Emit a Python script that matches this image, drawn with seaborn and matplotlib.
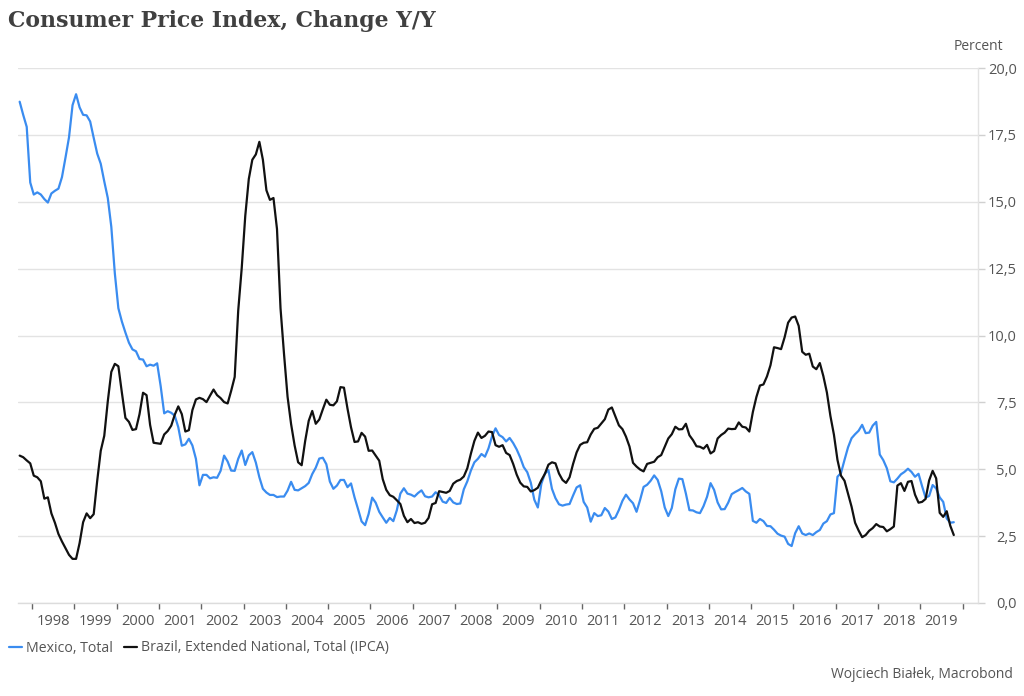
import matplotlib
matplotlib.use("Agg")
import matplotlib.pyplot as plt
import seaborn as sns
import pandas as pd
import numpy as np
from matplotlib.ticker import FixedLocator, FuncFormatter

# ---------------- data (monthly, Sep 1997 - Oct 2019) ----------------
start_month = "1997-09-01"

mexico = [
    18.74, 18.25, 17.80, 15.72,
    15.27, 15.35, 15.27, 15.10, 14.97, 15.31, 15.41, 15.49, 15.92, 16.65, 17.41, 18.61,
    19.02, 18.53, 18.25, 18.23, 18.00, 17.39, 16.80, 16.42, 15.76, 15.14, 14.06, 12.32,
    11.02, 10.52, 10.11, 9.73, 9.48, 9.41, 9.12, 9.10, 8.85, 8.91, 8.87, 8.96,
    8.11, 7.09, 7.17, 7.11, 7.00, 6.57, 5.88, 5.93, 6.14, 5.89, 5.39, 4.40,
    4.79, 4.79, 4.66, 4.70, 4.68, 4.94, 5.51, 5.29, 4.95, 4.94, 5.39, 5.70,
    5.16, 5.52, 5.64, 5.25, 4.70, 4.27, 4.13, 4.04, 4.04, 3.96, 3.98, 3.98,
    4.20, 4.53, 4.23, 4.21, 4.29, 4.37, 4.49, 4.82, 5.06, 5.40, 5.43, 5.19,
    4.54, 4.27, 4.39, 4.60, 4.60, 4.33, 4.47, 3.95, 3.51, 3.05, 2.91, 3.33,
    3.94, 3.75, 3.41, 3.20, 3.00, 3.18, 3.06, 3.47, 4.09, 4.29, 4.09, 4.05,
    3.98, 4.11, 4.21, 3.99, 3.95, 3.98, 4.14, 4.03, 3.79, 3.74, 3.93, 3.76,
    3.70, 3.72, 4.25, 4.55, 4.95, 5.26, 5.39, 5.57, 5.47, 5.78, 6.23, 6.53,
    6.28, 6.20, 6.04, 6.17, 5.98, 5.74, 5.44, 5.08, 4.89, 4.50, 3.86, 3.57,
    4.46, 4.83, 4.97, 4.27, 3.92, 3.69, 3.64, 3.68, 3.70, 4.02, 4.32, 4.40,
    3.78, 3.57, 3.04, 3.36, 3.25, 3.28, 3.55, 3.42, 3.14, 3.20, 3.48, 3.82,
    4.05, 3.87, 3.73, 3.41, 3.85, 4.34, 4.42, 4.57, 4.77, 4.60, 4.18, 3.57,
    3.25, 3.55, 4.25, 4.65, 4.63, 4.09, 3.47, 3.46, 3.39, 3.36, 3.62, 3.97,
    4.48, 4.23, 3.76, 3.50, 3.51, 3.75, 4.07, 4.15, 4.22, 4.30, 4.17, 4.08,
    3.07, 3.00, 3.14, 3.06, 2.88, 2.87, 2.74, 2.59, 2.52, 2.48, 2.21, 2.13,
    2.61, 2.87, 2.60, 2.54, 2.60, 2.54, 2.65, 2.73, 2.97, 3.06, 3.31, 3.36,
    4.72, 4.86, 5.35, 5.82, 6.16, 6.31, 6.44, 6.66, 6.35, 6.37, 6.63, 6.77,
    5.55, 5.34, 5.04, 4.55, 4.51, 4.65, 4.81, 4.90, 5.02, 4.90, 4.72, 4.83,
    4.37, 3.94, 4.00, 4.41, 4.28, 3.95, 3.78, 3.16, 3.00, 3.02,
]

brazil = [
    5.51, 5.45, 5.33, 5.22,
    4.76, 4.70, 4.55, 3.90, 3.95, 3.35, 3.00, 2.58, 2.30, 2.05, 1.80, 1.65,
    1.65, 2.24, 3.02, 3.35, 3.17, 3.32, 4.57, 5.69, 6.25, 7.54, 8.64, 8.94,
    8.85, 7.86, 6.92, 6.77, 6.47, 6.50, 7.06, 7.86, 7.77, 6.66, 5.99, 5.97,
    5.95, 6.30, 6.43, 6.63, 7.04, 7.35, 7.06, 6.41, 6.46, 7.21, 7.61, 7.67,
    7.62, 7.51, 7.75, 7.98, 7.77, 7.66, 7.51, 7.46, 7.93, 8.45, 10.93, 12.53,
    14.47, 15.85, 16.57, 16.77, 17.24, 16.57, 15.43, 15.07, 15.14, 13.98, 11.02, 9.30,
    7.71, 6.69, 5.89, 5.26, 5.15, 6.06, 6.81, 7.18, 6.70, 6.86, 7.24, 7.60,
    7.41, 7.39, 7.54, 8.07, 8.05, 7.27, 6.57, 6.02, 6.04, 6.36, 6.22, 5.69,
    5.70, 5.51, 5.32, 4.63, 4.23, 4.03, 3.97, 3.84, 3.70, 3.26, 3.02, 3.14,
    2.99, 3.02, 2.96, 3.00, 3.18, 3.69, 3.74, 4.18, 4.15, 4.12, 4.19, 4.46,
    4.56, 4.61, 4.73, 5.04, 5.58, 6.06, 6.37, 6.17, 6.25, 6.41, 6.39, 5.90,
    5.84, 5.90, 5.61, 5.53, 5.20, 4.80, 4.50, 4.36, 4.34, 4.17, 4.22, 4.31,
    4.59, 4.83, 5.17, 5.26, 5.22, 4.84, 4.60, 4.49, 4.70, 5.20, 5.63, 5.91,
    5.99, 6.01, 6.30, 6.51, 6.55, 6.71, 6.87, 7.23, 7.31, 6.97, 6.64, 6.50,
    6.22, 5.85, 5.24, 5.10, 4.99, 4.92, 5.20, 5.24, 5.28, 5.45, 5.53, 5.84,
    6.15, 6.31, 6.59, 6.49, 6.50, 6.70, 6.27, 6.09, 5.86, 5.84, 5.77, 5.91,
    5.59, 5.68, 6.15, 6.28, 6.37, 6.52, 6.50, 6.51, 6.75, 6.59, 6.56, 6.41,
    7.14, 7.70, 8.13, 8.17, 8.47, 8.89, 9.56, 9.53, 9.49, 9.93, 10.48, 10.67,
    10.71, 10.36, 9.39, 9.28, 9.32, 8.84, 8.74, 8.97, 8.48, 7.87, 6.99, 6.29,
    5.35, 4.76, 4.57, 4.08, 3.60, 3.00, 2.71, 2.46, 2.54, 2.70, 2.80, 2.95,
    2.86, 2.84, 2.68, 2.76, 2.86, 4.39, 4.48, 4.19, 4.53, 4.56, 4.05, 3.75,
    3.78, 3.89, 4.58, 4.94, 4.66, 3.37, 3.22, 3.43, 2.89, 2.54,
]

series_names = ["Mexico, Total", "Brazil, Extended National, Total (IPCA)"]
series_colors = ["#3a8cf0", "#111111"]
year_labels = list(range(1998, 2020))
y_ticks = [0, 2.5, 5, 7.5, 10, 12.5, 15, 17.5, 20]

# ---------------- build frame ----------------
dates = pd.date_range(start_month, periods=len(mexico), freq="MS")
t = dates.year + (dates.month - 0.5) / 12.0
df = pd.concat([
    pd.DataFrame({"t": t, "value": mexico, "series": series_names[0]}),
    pd.DataFrame({"t": t, "value": brazil, "series": series_names[1]}),
], ignore_index=True)

# ---------------- style ----------------
sns.set_theme(style="white")
plt.rcParams["font.family"] = ["Open Sans", "DejaVu Sans"]

fig = plt.figure(figsize=(10.24, 6.96), dpi=100)
ax = fig.add_axes([18 / 1024, 93 / 696, 960 / 1024, 535 / 696])

sns.lineplot(data=df, x="t", y="value", hue="series", hue_order=series_names,
             palette=series_colors, linewidth=1.6, ax=ax, legend=False,
             estimator=None, sort=False)

ax.set_xlim(1997.669, 2020.364)
ax.set_ylim(0, 20)
ax.set_xlabel("")
ax.set_ylabel("")

# grid
for v in y_ticks:
    ax.axhline(v, color="#e3e3e3", lw=1.0, zorder=0)

for s in ["left", "top"]:
    ax.spines[s].set_visible(False)
ax.spines["right"].set_color("#e3e3e3")
ax.spines["right"].set_linewidth(1.0)
ax.spines["bottom"].set_color("#dcdcdc")
ax.spines["bottom"].set_linewidth(1.0)

# y axis on the right
ax.yaxis.tick_right()
ax.yaxis.set_major_locator(FixedLocator(y_ticks))
ax.yaxis.set_major_formatter(FuncFormatter(lambda v, p: f"{v:.1f}".replace(".", ",")))
ax.tick_params(axis="y", which="major", direction="out", length=5, width=1,
               color="#d0d0d0", labelcolor="#555555", labelsize=10.5, pad=23)
for lab in ax.get_yticklabels():
    lab.set_horizontalalignment("right")

# x axis: ticks at year boundaries, labels at mid-year
ax.xaxis.set_major_locator(FixedLocator(list(range(1998, 2021))))
ax.xaxis.set_major_formatter(FuncFormatter(lambda v, p: ""))
ax.xaxis.set_minor_locator(FixedLocator([y + 0.5 for y in year_labels]))
ax.xaxis.set_minor_formatter(FuncFormatter(lambda v, p: str(int(v))))
ax.tick_params(axis="x", which="major", direction="out", length=4, width=1,
               color="#666666", bottom=True)
ax.tick_params(axis="x", which="minor", length=0, labelcolor="#555555",
               labelsize=10.5, pad=8, bottom=True)

# texts
fig.text(8 / 1024, 1 - 21 / 696, "Consumer Price Index, Change Y/Y",
         fontfamily="DejaVu Serif", fontweight="bold", fontsize=15.8,
         color="#404040", ha="left", va="center")
fig.text(978 / 1024, 1 - 46 / 696, "Percent", fontsize=10, color="#555555",
         ha="center", va="center")
fig.text(1013 / 1024, 1 - 675 / 696, "Wojciech Białek, Macrobond", fontsize=10,
         color="#555555", ha="right", va="center")

handles = [plt.Line2D([], [], color=c, lw=1.6) for c in series_colors]
fig.legend(handles, series_names, loc="center left",
           bbox_to_anchor=(6 / 1024, 1 - 648 / 696), ncol=2, frameon=False,
           handlelength=0.9, handletextpad=0.3, columnspacing=0.8,
           borderaxespad=0, borderpad=0.2, fontsize=10.2, labelcolor="#555555")

fig.savefig("out.png", dpi=100)
